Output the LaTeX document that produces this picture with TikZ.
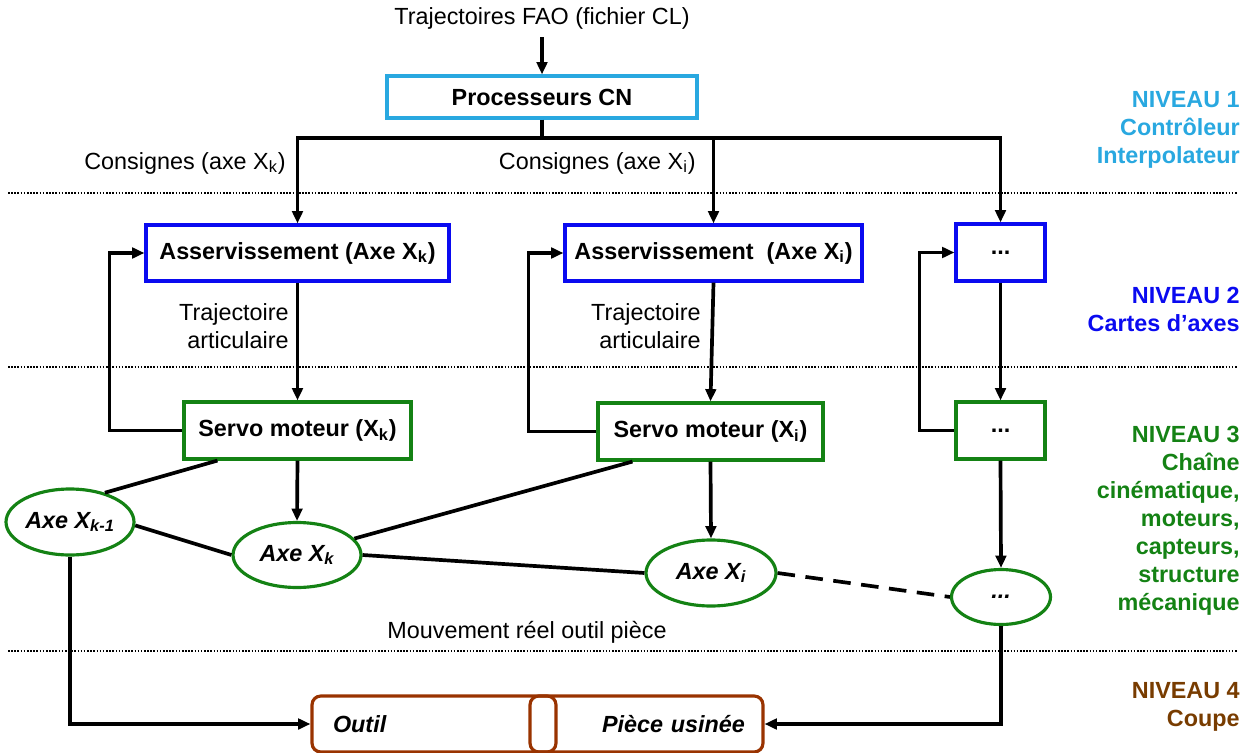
\documentclass[tikz,border=0pt]{standalone}
\usepackage{fontspec}
\setmainfont{Liberation Sans}
\usetikzlibrary{arrows.meta,shapes.geometric,calc}
\definecolor{lblue}{RGB}{41,168,224}
\definecolor{dblue}{RGB}{10,10,240}
\definecolor{dgreen}{RGB}{20,130,20}
\definecolor{bbox}{RGB}{153,51,0}
\definecolor{btext}{RGB}{120,60,0}
\begin{document}
\begin{tikzpicture}[x=0.02cm,y=-0.02cm,
  font=\fontsize{13.3}{15.9}\selectfont,
  box/.style={draw,line width=1.8pt,inner sep=0pt,font=\fontsize{13.3}{15.9}\selectfont\bfseries},
  ell/.style={ellipse,draw=dgreen,line width=1.8pt,inner sep=0pt,font=\fontsize{13.3}{15.9}\selectfont\bfseries\itshape},
  conn/.style={line width=2.1pt},
  arr/.style={conn,-{Triangle[length=7pt,width=6pt]}},
  sep/.style={line width=0.9pt,dash pattern=on 0.9pt off 0.9pt},
  lvl/.style={align=right,anchor=east,inner sep=0pt,font=\fontsize{13.3}{15.9}\selectfont\bfseries},
  lbl/.style={inner sep=0pt}]
\useasboundingbox (0,0) rectangle (1250,753);

% level separators
\draw[sep] (8,193) -- (1238,193);
\draw[sep] (8,367) -- (1238,367);
\draw[sep] (8,651) -- (1238,651);

% nodes
\node[lbl] (fao) at (542,18) {Trajectoires FAO (fichier CL)};
\node[box,draw=lblue,minimum width=6.2cm,minimum height=0.84cm] (pcn) at (542,97) {Processeurs CN};

\node[box,draw=dblue,minimum width=6.06cm,minimum height=1.12cm] (ak) at (297.5,253) {Asservissement (Axe X\textsubscript{k})};
\node[box,draw=dblue,minimum width=5.94cm,minimum height=1.12cm] (ai) at (713.5,253) {Asservissement\ \ (Axe X\textsubscript{i})};
\node[box,draw=dblue,minimum width=1.78cm,minimum height=1.14cm] (ad) at (1000.5,252.5) {...};

\node[box,draw=dgreen,minimum width=4.54cm,minimum height=1.14cm] (sk) at (297.5,430.5) {Servo moteur (X\textsubscript{k})};
\node[box,draw=dgreen,minimum width=4.5cm,minimum height=1.14cm] (si) at (710.5,431.5) {Servo moteur (X\textsubscript{i})};
\node[box,draw=dgreen,minimum width=1.78cm,minimum height=1.14cm] (sd) at (1000.5,430.5) {...};

\node[ell,minimum width=2.56cm,minimum height=1.32cm] (ekm) at (70,522) {Axe X\textsubscript{k-1}};
\node[ell,minimum width=2.56cm,minimum height=1.3cm] (ek) at (297,555) {Axe X\textsubscript{k}};
\node[ell,minimum width=2.6cm,minimum height=1.32cm] (ei) at (711,573) {Axe X\textsubscript{i}};
\node[ell,minimum width=1.98cm,minimum height=1.1cm] (ed) at (1001,597) {...};

\node[box,draw=bbox,rounded corners=5pt,minimum height=1.12cm,text width=4.04cm,inner xsep=0.42cm,align=left,font=\fontsize{13.3}{15.9}\selectfont\bfseries\itshape] (outil) at (434,724) {Outil};
\node[box,draw=bbox,rounded corners=5pt,minimum height=1.12cm,text width=3.94cm,inner xsep=0.36cm,align=right,font=\fontsize{13.3}{15.9}\selectfont\bfseries\itshape] (piece) at (646.5,724) {Pièce usinée};

% text labels
\node[lbl,anchor=east] (consk) at (286,163) {Consignes (axe X\textsubscript{k})};
\node[lbl,anchor=east] (consi) at (696,163) {Consignes (axe X\textsubscript{i})};
\node[lbl,anchor=east,align=right] (trajk) at (289,326) {Trajectoire\\articulaire};
\node[lbl,anchor=east,align=right] (traji) at (701,326) {Trajectoire\\articulaire};
\node[lbl] (mvt) at (527,632) {Mouvement réel outil pièce};

\node[lvl,text=lblue] (n1) at (1240,130) {NIVEAU 1\\Contrôleur\\Interpolateur};
\node[lvl,text=dblue] (n2) at (1240,309.5) {NIVEAU 2\\Cartes d’axes};
\node[lvl,text=dgreen] (n3) at (1240,520.5) {NIVEAU 3\\Chaîne\\cinématique,\\moteurs,\\capteurs,\\structure\\mécanique};
\node[lvl,text=btext] (n4) at (1240,707) {NIVEAU 4\\Coupe};

% connectors
\coordinate (split) at (542,138);
\draw[arr] ($(fao.south)+(0,8)$) -- (pcn.north);
\draw[conn] (pcn.south) -- (split);
\draw[arr] (split) -| (ak.north);
\draw[arr] (split) -| (ai.north);
\draw[arr] (split) -| (ad.north);

\draw[arr] (ak.south) -- (sk.north);
\draw[arr] (ai.south) -- (si.north);
\draw[arr] (ad.south) -- (sd.north);

\draw[arr] (sk.west) -- ++(-73,0) |- (ak.west);
\draw[arr] (si.west) -- ++(-68,0) |- (ai.west);
\draw[arr] (sd.west) -- ++(-35,0) |- (ad.west);

\draw[arr] (sk.south) -- (ek.north);
\draw[arr] (si.south) -- (ei.north);
\draw[arr] (sd.south) -- (ed.north);

\draw[conn] (ekm.40) -- ($(sk.south west)+(35,0)$);
\draw[conn] (ek.16) -- ($(si.south west)+(36,0)$);
\draw[conn] (ekm.-3) -- (ek.west);
\draw[conn] (ek.east) -- (ei.west);
\draw[conn,dash pattern=on 10pt off 6pt] (ei.east) -- (ed.west);

\draw[arr] (ekm.south) |- (outil.west);
\draw[arr] (ed.south) |- (piece.east);
\end{tikzpicture}
\end{document}
